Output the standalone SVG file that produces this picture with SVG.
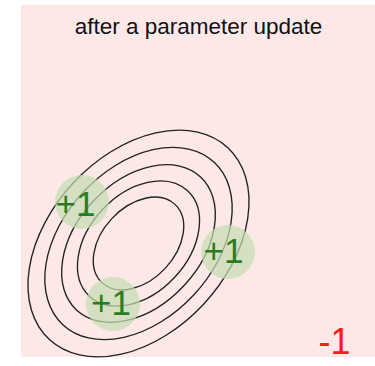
<svg xmlns="http://www.w3.org/2000/svg" width="375" height="366" viewBox="0 0 375 366">
<style>
.c{fill:none;stroke:#222;stroke-width:1.35}
.s{fill:#c4ddb2;opacity:0.72}
.p{font-family:"Liberation Sans",Arial,sans-serif;font-size:35px;fill:#2a7d1e}
</style>
<rect x="0" y="0" width="375" height="366" fill="#ffffff"/>
<rect x="21" y="5" width="354" height="352" fill="#fde8e8"/>
<text x="198.5" y="34" text-anchor="middle" font-family="Liberation Sans, Arial, sans-serif" font-size="22.5" fill="#111">after a parameter update</text>
<g id="contours" transform="translate(138.5 243.5) rotate(-47)">
<ellipse class="c" rx="53.5" ry="36.5"/>
<ellipse class="c" rx="72" ry="49.5"/>
<ellipse class="c" rx="91" ry="62"/>
<ellipse class="c" rx="111" ry="75.5"/>
<ellipse class="c" rx="131" ry="89"/>
</g>
<g id="sample1"><circle class="s" cx="82" cy="202" r="27"/><text class="p" x="55.5" y="216">+1</text></g>
<g id="sample2"><circle class="s" cx="228" cy="252" r="27"/><text class="p" x="203.5" y="263">+1</text></g>
<g id="sample3"><circle class="s" cx="113" cy="304" r="27"/><text class="p" x="91" y="315">+1</text></g>
<text x="318.5" y="354" font-family="Liberation Sans, Arial, sans-serif" font-size="36" fill="#ff1a1a">-1</text>
</svg>
